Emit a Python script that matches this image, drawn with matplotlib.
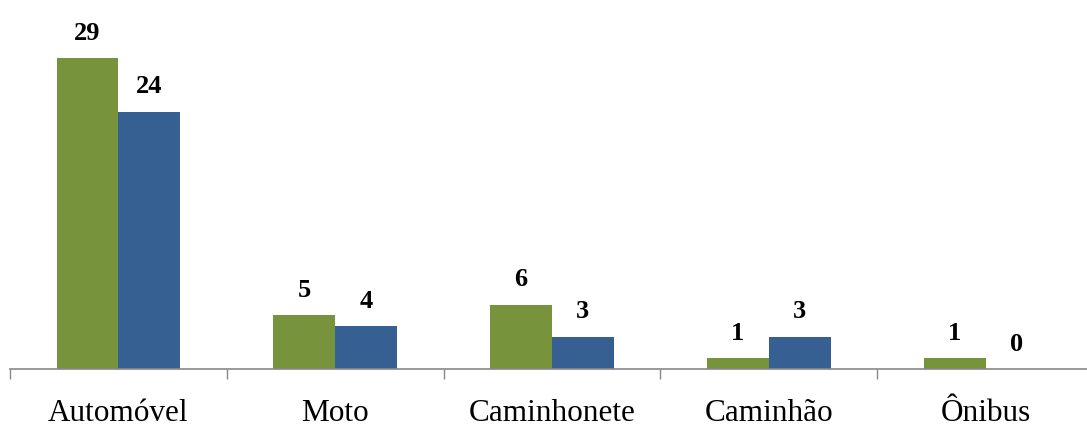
import numpy as np
import matplotlib
matplotlib.use("Agg")
import matplotlib.pyplot as plt

# Dados
categorias = ["Automóvel", "Moto", "Caminhonete", "Caminhão", "Ônibus"]
serie_verde = [29, 5, 6, 1, 1]
serie_azul = [24, 4, 3, 3, 0]

plt.rcParams['font.family'] = ['Liberation Serif', 'DejaVu Serif']

fig = plt.figure(figsize=(10.87, 4.28), dpi=100)
# eixo um pouco mais largo que a figura (a última categoria é cortada à direita)
ax = fig.add_axes([10 / 1087, 59 / 428, 1084 / 1087, 343 / 428])

x = np.arange(len(categorias))
w = 0.285
b1 = ax.bar(x - w / 2, serie_verde, w, color="#77933C")
b2 = ax.bar(x + w / 2, serie_azul, w, color="#376092")

# rótulos de valor
for bars, vals in [(b1, serie_verde), (b2, serie_azul)]:
    for b, v in zip(bars, vals):
        ax.annotate(str(v), (b.get_x() + b.get_width() / 2, v),
                    xytext=(0, 13.3), textcoords="offset points",
                    ha="center", va="baseline", fontsize=19, fontweight="bold")

ax.set_xlim(-0.5, len(categorias) - 0.5)
ax.set_ylim(0, 32)
ax.set_xticks(np.arange(len(categorias) + 1) - 0.5)
ax.set_xticklabels([])
ax.tick_params(axis="x", direction="out", length=7.2, width=1, color="#888888")
ax.set_yticks([])

# nomes das categorias
for xi, nome in zip(x, categorias):
    ax.text(xi, -52 / 343, nome, transform=ax.get_xaxis_transform(),
            ha="center", va="baseline", fontsize=22.5)

for s in ["top", "right", "left"]:
    ax.spines[s].set_visible(False)
ax.spines["bottom"].set_color("#888888")
ax.spines["bottom"].set_linewidth(1.2)

fig.savefig("out.png", dpi=100)
